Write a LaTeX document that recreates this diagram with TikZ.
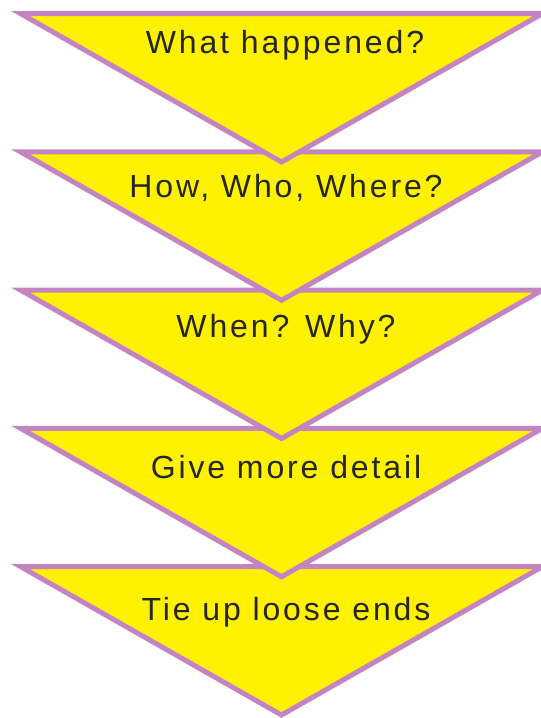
\documentclass[tikz,border=0pt]{standalone}
\usepackage{fontspec}
\setmainfont{Liberation Sans}[LetterSpace=9]
\definecolor{tyellow}{RGB}{255,242,0}
\definecolor{tborder}{RGB}{195,132,193}
\definecolor{ttext}{RGB}{38,38,38}
\begin{document}
\begin{tikzpicture}[x=1pt,y=-1pt,
  funnel/.style={fill=tyellow,draw=tborder,line width=5pt,line join=miter},
  lbl/.style={anchor=base,text=ttext,font=\fontsize{32}{36}\selectfont,inner sep=0pt}]
\useasboundingbox (0,0) rectangle (541,718);
% bottom triangles first so the upper apexes overlap
\foreach \t [count=\i] in {566.5,428.25,290,151.75,13.5}{
  \draw[funnel] (20.4,\t) -- (542.6,\t) -- (281.5,\t+148.5) -- cycle;
}
\node[lbl] (t1) at (285,53) {What happened?};
\node[lbl] (t2) at (286,197) {How, Who, Where?};
\node[lbl] (t3) at (286,337) {When? Why?};
\node[lbl] (t4) at (286,478) {Give more detail};
\node[lbl] (t5) at (286,620) {Tie up loose ends};
\end{tikzpicture}
\end{document}
